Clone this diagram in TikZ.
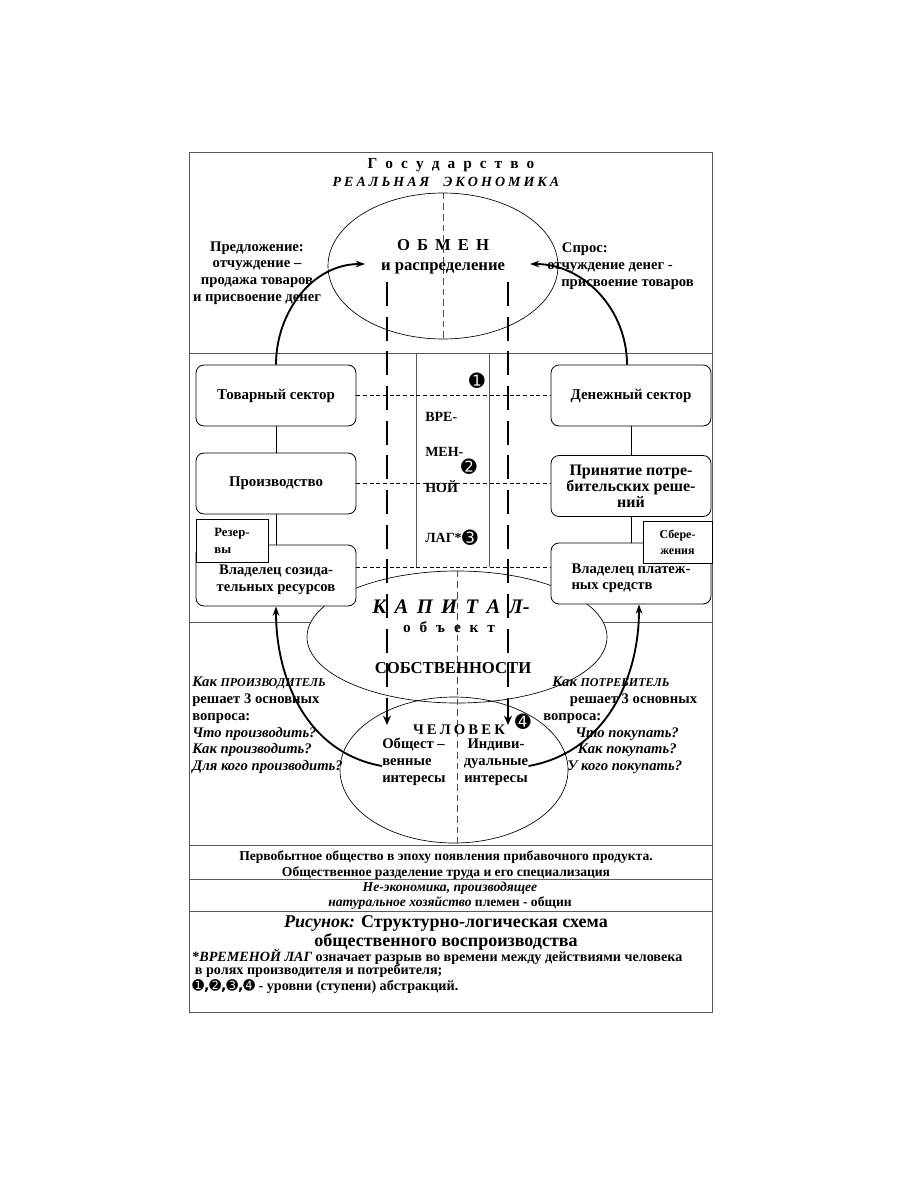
\documentclass[tikz,border=0pt]{standalone}
\usepackage{fontspec}
\setmainfont{Liberation Serif}
\newfontfamily\dingfont{DejaVu Sans}
\usetikzlibrary{positioning,arrows.meta,calc,shapes.geometric}

\begin{document}
\begin{tikzpicture}[x=0.75pt, y=0.75pt,
  frame line/.style={draw=black!65, line width=0.6pt},
  sector/.style={draw=black, line width=0.6pt, rounded corners=6pt, fill=white, minimum width=120pt, minimum height=45.75pt, align=center, inner sep=2pt, font=\bfseries\fontsize{11.2}{12.8}\selectfont},
  stock/.style={draw=black, line width=0.6pt, fill=white, align=left, inner sep=2pt, font=\bfseries\fontsize{9.5}{12.75}\selectfont},
  zone/.style={ellipse, draw=black, line width=0.5pt, inner sep=0pt},
  guide/.style={draw=black, line width=0.5pt, dash pattern=on 3pt off 2pt},
  axis/.style={draw=black!70, line width=0.5pt, dash pattern=on 5pt off 3pt},
  lag arrow/.style={line width=2.2pt, dash pattern=on 18pt off 8pt, -{Stealth[length=7pt,width=6pt]}},
  flow/.style={line width=1.4pt, -{Stealth[length=7pt,width=5pt]}},
  txt/.style={font=\bfseries\fontsize{11}{12.6}\selectfont, inner sep=0pt, align=center},
  level/.style={font=\dingfont\fontsize{14}{14}\selectfont, inner sep=0pt}
]
\useasboundingbox (0,0) rectangle (898,-1195);

% frame and bands
\draw[frame line] (189,-152) rectangle (712,-1012);
\foreach \y in {353,622,845,879,911}
  \draw[frame line] (189,-\y) -- (712,-\y);
\draw[frame line] (416,-353) -- (416,-567);
\draw[frame line] (489,-353) -- (489,-567);

% ellipses
\node[zone, minimum width=172.5pt, minimum height=109.5pt] (exchange) at (443,-266) {};
\node[zone, fill=white, minimum width=225pt, minimum height=99pt] (capital) at (457,-637) {};
\node[zone, minimum width=171pt, minimum height=109.5pt] (person) at (454,-770) {};
\draw[axis] (exchange.north) -- (exchange.south);
\draw[axis] (capital.north) -- (capital.north |- person.south);

% top band
\node[txt, font=\bfseries\fontsize{11.5}{13}\selectfont] (state) at (451,-165) {\makebox[125pt][s]{Г о с у д а р с т в о}};
\node[txt, font=\bfseries\itshape\fontsize{10.5}{13}\selectfont] (realeco) at (446,-182) {\makebox[170pt][s]{Р Е А Л Ь Н А Я\quad Э К О Н О М И К А}};
\node[txt, font=\bfseries\fontsize{12.5}{15}\selectfont] (obmen) at (443,-257) {\makebox[69pt][s]{О Б М Е Н}\\и распределение};
\node[txt] (offer) at (257,-273) {Предложение:\\отчуждение –\\продажа товаров\\и присвоение денег};
\node[txt, align=left, anchor=west] (demand) at (547,-266) {\hspace*{11pt}Спрос:\\отчуждение денег -\\\hspace*{10.5pt}присвоение товаров};

% sectors
\node[sector] (tovar) at (276,-395.5) {Товарный сектор};
\node[sector] (proizv) at (276,-483.5) {Производство};
\node[sector, label={[txt, yshift=-3.5pt]center:Владелец созида-\\тельных ресурсов}] (ownres) at (276,-575.5) {};
\node[sector] (dengi) at (631,-395.5) {Денежный сектор};
\node[sector, font=\bfseries\fontsize{12}{10.8}\selectfont] (decide) at (631,-486) {Принятие потре-\\бительских реше-\\ний};
\node[sector, label={[txt, align=left, yshift=-3.5pt]center:Владелец платеж-\\ных средств}] (ownpay) at (631,-573.5) {};
\node[stock, minimum width=54pt, minimum height=32.25pt] (reserve) at (232,-540.5) {Резер-\\вы};
\node[stock, align=center, font=\bfseries\fontsize{9}{12}\selectfont, minimum width=51.75pt, minimum height=31.5pt] (savings) at (677.5,-542) {Сбере-\\жения};

\draw[line width=0.6pt] (tovar.south) -- (proizv.north);
\draw[line width=0.6pt] (proizv.south) -- (ownres.north);
\draw[line width=0.6pt] (dengi.south) -- (decide.north);
\draw[line width=0.6pt] (decide.south) -- (ownpay.north);

% levels of abstraction
\coordinate (lagfloor) at (0,-567);
\draw[guide] (tovar.east) -- (dengi.west);
\draw[guide] (proizv.east) -- (proizv.east -| decide.west);
\draw[guide] (ownres.east |- lagfloor) -- (ownpay.west |- lagfloor);
\foreach \word/\y [count=\i] in {ВРЕ-/417, МЕН-/452, НОЙ/487, ЛАГ*/538}
  \node[txt, font=\bfseries\fontsize{10.5}{12}\selectfont, anchor=west] (lag\i) at (425,-\y) {\word};
\node[level] (lvl1) at (477,-381) {➊};
\node[level] (lvl2) at (469,-467) {➋};
\node[level] (lvl3) at (470,-538) {➌};
\node[level] (lvl4) at (523,-722) {➍};

% capital and person
\node[txt, font=\bfseries\itshape\fontsize{15.5}{17}\selectfont] (capword) at (451,-607) {\makebox[118pt][s]{К А П И Т А Л-}};
\node[txt, font=\bfseries\fontsize{11.5}{13}\selectfont] (objword) at (449,-627) {\makebox[69pt][s]{о б ъ е к т}};
\node[txt, font=\bfseries\fontsize{12.5}{14}\selectfont] (propword) at (453,-668) {СОБСТВЕННОСТИ};
\node[txt] (personword) at (459,-730) {\makebox[69pt][s]{Ч Е Л О В Е К}};
\node[txt, align=left, anchor=west] (common) at (382,-762) {Общест –\\венные\\интересы};
\node[txt] (private) at (496,-762) {Индиви-\\дуальные\\интересы};

\node[txt, align=left, anchor=west] (producer) at (192,-725.5) {{\itshape Как {\fontsize{9}{10}\selectfont ПРОИЗВОДИТЕЛЬ}}\\решает 3 основных\\вопроса:\\{\itshape Что производить?}\\{\itshape Как производить?}\\{\itshape Для кого производить?}};
\node[txt, align=left, anchor=west] (consumer) at (543,-725.5) {\hspace*{6.75pt}{\itshape Как {\fontsize{9}{10}\selectfont ПОТРЕБИТЕЛЬ}}\\\hspace*{20pt}решает 3 основных\\вопроса:\\\hspace*{24pt}{\itshape Что покупать?}\\\hspace*{26pt}{\itshape Как покупать?}\\\hspace*{18pt}{\itshape У кого покупать?}};

% flows
\coordinate (offertip) at (365,-264);
\coordinate (demandtip) at (530,-264);
\coordinate (supply start) at (387,-282);
\coordinate (supply end) at (387,-725);
\coordinate (demand start) at (508,-282);
\coordinate (demand end) at (508,-725);
\draw[lag arrow] (supply start) -- (supply end);
\draw[lag arrow] (demand start) -- (demand end);
\draw[flow] (tovar.north) to[out=90, in=180] (offertip);
\draw[flow] ([xshift=-3pt]dengi.north) to[out=90, in=0] (demandtip);
\draw[flow] ([yshift=-3pt]common.west) to[out=170, in=-90] (ownres.south);
\draw[flow] ([yshift=-3pt]private.east) to[out=10, in=-90] ([xshift=6pt]ownpay.south);

% bottom bands
\node[txt, font=\bfseries\fontsize{10.2}{12}\selectfont] (primitive) at (446,-865) {Первобытное общество в эпоху появления прибавочного продукта.\\Общественное разделение труда и его специализация};
\node[txt, font=\bfseries\fontsize{10.2}{11.5}\selectfont] (nonecon) at (450,-896) {{\itshape Не-экономика, производящее}\\{\itshape натуральное хозяйство} племен - общин};
\node[txt, font=\bfseries\fontsize{13.5}{14.5}\selectfont] (caption) at (446,-933) {{\itshape Рисунок:} Структурно-логическая схема\\общественного воспроизводства};
\node[txt, align=left, anchor=west, font=\bfseries\fontsize{10.6}{10}\selectfont] (note) at (192,-971) {*{\itshape ВРЕМЕНОЙ ЛАГ} означает разрыв во времени между действиями человека\\\hspace*{2pt}в ролях производителя и потребителя;\\{\dingfont\fontsize{10.5}{10}\selectfont ➊,➋,➌,➍} - уровни (ступени) абстракций.};
\end{tikzpicture}
\end{document}
